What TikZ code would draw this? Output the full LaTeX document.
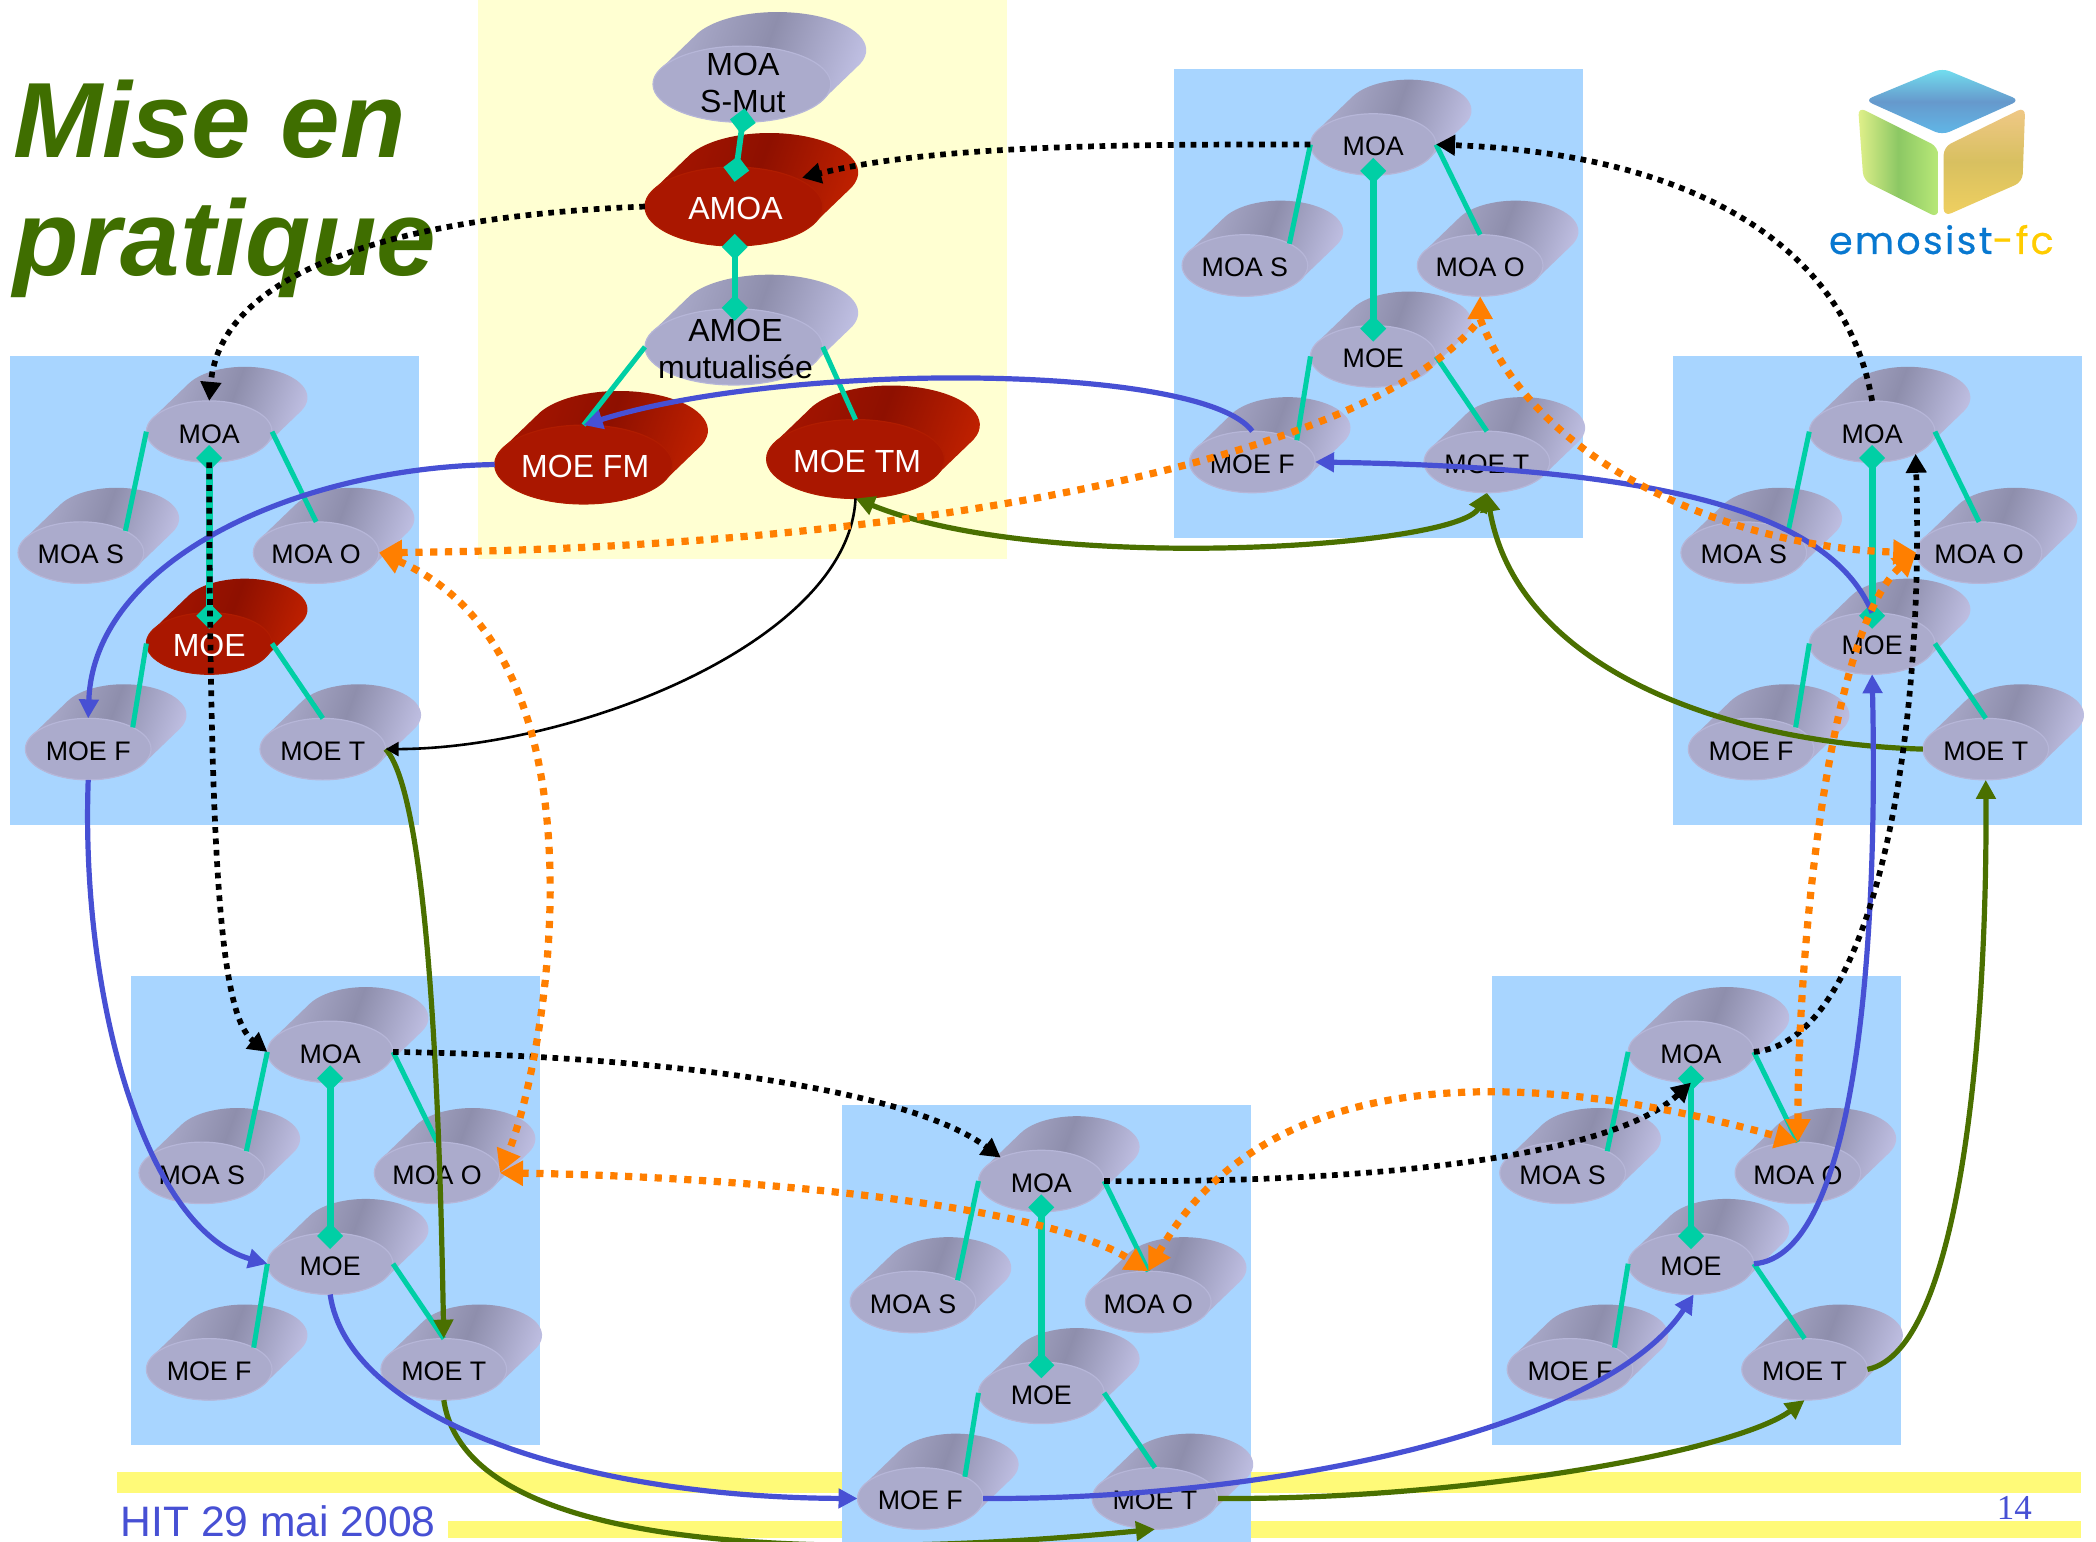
\documentclass[tikz,border=0pt]{standalone}
\usepackage{fontspec}
\setmainfont{Liberation Sans}
\newfontfamily\serifft{Liberation Serif}
\newfontfamily\logoft[LetterSpace=6,FakeBold=0.5]{Poppins}
\usetikzlibrary{arrows.meta,shapes.geometric,calc}
\definecolor{panelblue}{HTML}{A8D5FF}
\definecolor{paleyellow}{HTML}{FFFFD2}
\definecolor{bandyellow}{HTML}{FFFA78}
\definecolor{teal}{HTML}{00CFA5}
\definecolor{linkblue}{HTML}{4750D4}
\definecolor{linkgreen}{HTML}{4A7000}
\definecolor{linkorange}{HTML}{FF7F00}
\definecolor{titlegreen}{HTML}{3F6E00}
\definecolor{frontgrey}{HTML}{ABABCC}
\definecolor{rimgrey}{HTML}{B6B6D8}
\definecolor{frontred}{HTML}{AA1700}
\definecolor{rimred}{HTML}{B01C00}
\definecolor{greyedge}{HTML}{B0B0D0}
\definecolor{rededge}{HTML}{A81500}
\definecolor{HTMLdark}{HTML}{8E8EAC}
\definecolor{HTMLlight}{HTML}{C4C4E8}
\definecolor{HTMLdarkred}{HTML}{8E1000}
\definecolor{HTMLlightred}{HTML}{C42200}
\definecolor{HTMLcyan}{HTML}{72E0F0}
\definecolor{HTMLsky}{HTML}{60B8E8}
\definecolor{HTMLdeep}{HTML}{6699CC}
\definecolor{HTMLpale}{HTML}{E0F08A}
\definecolor{HTMLlime}{HTML}{B8E878}
\definecolor{HTMLleaf}{HTML}{8CC864}
\definecolor{HTMLpeach}{HTML}{F0C888}
\definecolor{HTMLgold}{HTML}{F0D060}
\definecolor{HTMLochre}{HTML}{D8C060}
\definecolor{logoblue}{HTML}{0878D0}
\definecolor{logoyellow}{HTML}{FFCC00}
\tikzset{
  backgrey/.style={left color=greyedge,right color=HTMLlight,middle color=HTMLdark,shading angle=70},
  backred/.style={left color=rededge,right color=HTMLlightred,middle color=HTMLdarkred,shading angle=70},
  panelbox/.style={fill=panelblue,draw=none},
  thinlink/.style={draw=teal,line width=2.5pt},
  midlink/.style={draw=teal,line width=3.4pt,{Diamond[length=13pt,width=13pt]}-{Diamond[length=13pt,width=13pt]}},
  toplink/.style={draw=teal,line width=2.9pt,{Diamond[length=13pt,width=13pt]}-{Diamond[length=13pt,width=13pt]}},
  blueflow/.style={draw=linkblue,line width=2.6pt,-{Triangle[length=9.5pt,width=9.5pt]}},
  greenflow/.style={draw=linkgreen,line width=2.6pt,-{Triangle[length=9.5pt,width=9.5pt]}},
  greenboth/.style={draw=linkgreen,line width=2.6pt,{Triangle[length=9.5pt,width=9.5pt]}-{Triangle[length=9.5pt,width=9.5pt]}},
  blackthin/.style={draw=black,line width=1.3pt,-{Triangle[length=6.5pt,width=7pt]}},
  blackdots/.style={draw=black,line width=2.85pt,dash pattern=on 2.85pt off 2.85pt,-{Triangle[length=9.5pt,width=10pt]}},
  orangeplain/.style={draw=linkorange,line width=3.6pt,dash pattern=on 3.6pt off 3.8pt},
  orangedots/.style={orangeplain,{Triangle[length=11.5pt,width=12pt]}-{Triangle[length=11.5pt,width=12pt]}},
  orangeone/.style={orangeplain,-{Triangle[length=11.5pt,width=12pt]}},
  orangestart/.style={orangeplain,{Triangle[length=11.5pt,width=12pt]}-},
  smalltext/.style={font=\fontsize{13.4}{16}\selectfont},
  bigtext/.style={font=\fontsize{16}{18.7}\selectfont,align=center,xshift=.8pt},
}
% name, x, y, rx, ry, back style, front colour, rim colour, text colour + text style
\newcommand\cyl[9]{%
  \begin{scope}[shift={(#2,#3)}]
    \pgfmathsetmacro\ax{.891*#4}\pgfmathsetmacro\ay{.454*#5}
    \shade[#6] (-\ax,-\ay) -- ++(26.5,-25.5)
      arc[start angle=153,end angle=-27,x radius={#4*0.66837pt},y radius={#5*0.66837pt}]
      -- (\ax,\ay)
      arc[start angle=-27,end angle=-207,x radius={#4*0.66837pt},y radius={#5*0.66837pt}] -- cycle;
  \end{scope}
  \node[ellipse,inner sep=0pt,outer sep=0pt,minimum width={2*#4*0.66837pt},minimum height={2*#5*0.66837pt},fill=#7,draw=#8,line width=.6pt] (#1) at (#2,#3) {};
  \node[#9] (#1-t) at ({#2},{#3+1.6})}
\newcommand\cylg[3]{\cyl{#1}{#2}{#3}{47}{23}{backgrey}{frontgrey}{rimgrey}{smalltext,text=black}}
\newcommand\cylr[3]{\cyl{#1}{#2}{#3}{47}{23}{backred}{frontred}{rimred}{font=\fontsize{16}{18}\selectfont,text=white}}
\newcommand\biggrey[3]{\cyl{#1}{#2}{#3}{66.5}{28.5}{backgrey}{frontgrey}{rimgrey}{bigtext,text=black}}
\newcommand\bigred[3]{\cyl{#1}{#2}{#3}{66.5}{29.5}{backred}{frontred}{rimred}{bigtext,text=white}}
% prefix, x, y, command for the MOE cylinder
\newcommand\panel[4]{%
  \fill[panelbox] (#2,#3) rectangle ++(306,350.6);
  \begin{scope}[shift={(#2,#3)}]
    \cylg{#1-moa}{149}{56.5}{MOA};
    \cylg{#1-moas}{53}{147}{MOA S};
    \cylg{#1-moao}{229}{147}{MOA O};
    #4{#1-moe}{149}{215}{MOE};
    \cylg{#1-moef}{58.5}{294}{MOE F};
    \cylg{#1-moet}{234}{294}{MOE T};
  \end{scope}
  \draw[thinlink] (#1-moa.west) -- (#1-moas.26);
  \draw[thinlink] (#1-moa.east) -- (#1-moao.north);
  \draw[thinlink] (#1-moe.west) -- (#1-moef.26);
  \draw[thinlink] (#1-moe.east) -- (#1-moet.north);
  \draw[midlink] ($(#1-moa.center)+(0,10)$) -- ($(#1-moe.center)+(0,-11)$);
}
\begin{document}
\begin{tikzpicture}[x=0.66837pt,y=-0.66837pt]
\useasboundingbox (0,0) rectangle (1568,1153.5);
\clip (0,0) rectangle (1568,1153.5);
\fill[white] (0,0) rectangle (1568,1153.5);
% footer bands
\fill[bandyellow] (87.5,1101.5) rectangle (1557,1117);
\fill[bandyellow] (335.5,1138) rectangle (1557,1150.8);
\node[anchor=base west,inner sep=0pt,text=linkblue,font=\fontsize{21.3}{24}\selectfont] (footer) at (90,1149.5) {HIT 29 mai 2008};
\node[anchor=base,inner sep=0pt,text=linkblue,font=\serifft\fontsize{17.5}{20}\selectfont] (pagenum) at (1507,1137) {14};
% yellow area
\fill[paleyellow] (357.5,0) rectangle (753,418);
% title
\node[anchor=base west,inner sep=0pt,text=titlegreen,font=\fontsize{53.5}{60}\selectfont\bfseries\itshape] (title1) at (9.5,117.5) {Mise en};
\node[anchor=base west,inner sep=0pt,text=titlegreen,font=\fontsize{53.5}{60}\selectfont\bfseries\itshape] (title2) at (10,206) {pratique};
% logo
\shade[top color=HTMLcyan,bottom color=HTMLsky,middle color=HTMLdeep,rounded corners=4pt] (1453,51) -- (1511,75) -- (1453,101) -- (1395,75) -- cycle;
\shade[left color=HTMLpale,right color=HTMLlime,middle color=HTMLleaf,rounded corners=4pt] (1390,80) -- (1450,110) -- (1450,163) -- (1394,135) -- cycle;
\shade[top color=HTMLpeach,bottom color=HTMLgold,middle color=HTMLochre,rounded corners=4pt] (1515,80) -- (1454,110) -- (1454,162) -- (1513,136) -- cycle;
\node[anchor=base west,inner sep=0pt,font=\logoft\fontsize{19}{22}\selectfont] (logotext) at (1368,190) {\textcolor{logoblue}{emosist}\textcolor{logoyellow}{-fc}};
% panels
\panel{T}{878.3}{51.6}{\cylg}
\panel{L}{7.5}{266.4}{\cylr}
\panel{R}{1251.5}{266.4}{\cylg}
\panel{BL}{98}{730.4}{\cylg}
\panel{BM}{630}{827}{\cylg}
\panel{BR}{1116}{730.4}{\cylg}
% mutualised chain
\cyl{smut}{555}{63}{66.5}{28.5}{backgrey}{frontgrey}{rimgrey}{bigtext,text=black,yshift=1.6pt,xshift=-.3pt}{MOA\\[-.5pt]S-Mut};
\bigred{amoa}{549}{154.5}{AMOA};
\biggrey{amoe}{549}{259.5}{AMOE\\[-.5pt]mutualisée};
\bigred{moefm}{436.6}{347.5}{MOE FM};
\bigred{moetm}{640}{343.4}{MOE TM};
\draw[toplink] (557,81) -- (549.5,136);
\draw[toplink] (549.7,175) -- (549.7,240);
\draw[thinlink] (amoe.west) -- (moefm.north);
\draw[thinlink] (amoe.east) -- (moetm.north);
\coordinate (tin) at ($(T-moao.south)+(0,17)$);
% green flows
\draw[greenboth] (moetm.south) .. controls (780,430) and (1090,410) .. (T-moet.south);
\draw[greenflow] (R-moet.west) .. controls (1290,556) and (1135,500) .. (T-moet.south);
\draw[greenflow] (L-moet.east) .. controls (325,600) and (330,900) .. (BL-moet.north);
\draw[greenflow] (BL-moet.south) .. controls (350,1170) and (650,1165) .. (BM-moet.south);
\draw[greenflow] (BM-moet.east) .. controls (1100,1122) and (1300,1085) .. (BR-moet.south);
\draw[greenflow] (BR-moet.east) .. controls (1470,1010) and (1487,750) .. (R-moet.south);
% blue flows
\draw[blueflow] (T-moef.north) .. controls (900,272) and (590,270) .. (moefm.north);
\draw[blueflow] (moefm.west) .. controls (220,350) and (70,420) .. (L-moef.north);
\draw[blueflow] (L-moef.south) .. controls (60,750) and (110,920) .. (BL-moe.west);
\draw[blueflow] (BL-moe.south) .. controls (260,1060) and (430,1120) .. (BM-moef.west);
\draw[blueflow] (BM-moef.east) .. controls (950,1122) and (1200,1070) .. (BR-moe.-85);
\draw[blueflow] (BR-moe.east) .. controls (1390,940) and (1405,700) .. (R-moe.south);
\draw[blueflow] (R-moe.north) .. controls (1370,385) and (1250,350) .. (T-moef.east);
% thin black
\draw[blackthin] (moetm.south) .. controls (635,480) and (430,560) .. (L-moet.east);
% black dotted
\draw[blackdots] (T-moa.west) .. controls (850,108) and (700,108) .. (600,133);
\draw[blackdots] (amoa.west) .. controls (290,162) and (165,205) .. (L-moa.north);
\draw[blackdots] (R-moa.north) .. controls (1380,180) and (1260,115) .. (T-moa.east);
\draw[blackdots] (L-moa.south) .. controls (157,650) and (165,760) .. (BL-moa.west);
\draw[blackdots] (BL-moa.east) .. controls (500,790) and (680,815) .. (BM-moa.150);
\draw[blackdots] (BM-moa.east) .. controls (1000,885) and (1200,870) .. (BR-moa.south);
\draw[blackdots] (BR-moa.east) .. controls (1400,780) and (1440,560) .. (R-moa.-27);
% orange dotted
\draw[orangestart] (L-moao.east) .. controls (700,410) and (1030,340) .. (tin);
\draw[orangeone] (tin) .. controls (1150,350) and (1300,410) .. (R-moao.west);
\draw[orangeone] (tin) -- (T-moao.south);
\draw[orangedots] (L-moao.east) .. controls (460,490) and (410,790) .. (BL-moao.east);
\draw[orangedots] (BL-moao.east) .. controls (550,880) and (780,900) .. (BM-moao.north);
\draw[orangedots] (BM-moao.north) .. controls (950,790) and (1150,800) .. (BR-moao.north);
\draw[orangedots] (BR-moao.north) .. controls (1345,700) and (1370,470) .. (R-moao.west);
\end{tikzpicture}
\end{document}
